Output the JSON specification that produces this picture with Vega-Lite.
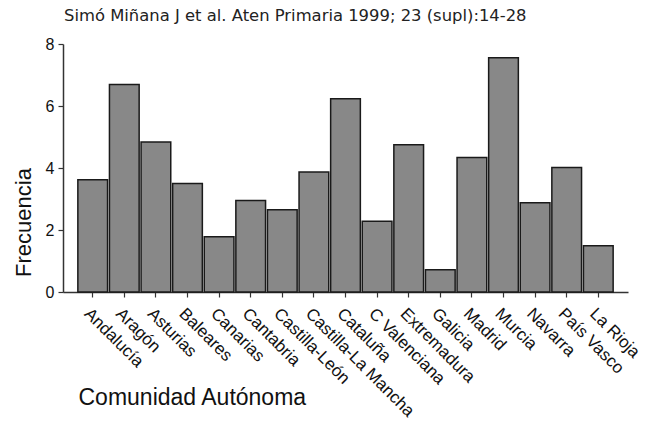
{
  "$schema": "https://vega.github.io/schema/vega-lite/v6.json",
  "width": 565,
  "height": 248,
  "autosize": {"type": "none"},
  "padding": {"left": 63, "top": 44, "right": 18, "bottom": 129},
  "background": "white",
  "title": {
    "text": "Simó Miñana J et al. Aten Primaria 1999; 23 (supl):14-28",
    "anchor": "start",
    "frame": "group",
    "dx": 1,
    "offset": -1,
    "baseline": "alphabetic",
    "font": "DejaVu Sans",
    "fontSize": 16.4,
    "fontWeight": "normal",
    "color": "#222222"
  },
  "data": {
    "values": [
      {"comunidad": "Andalucía", "frecuencia": 3.62},
      {"comunidad": "Aragón", "frecuencia": 6.69},
      {"comunidad": "Asturias", "frecuencia": 4.84},
      {"comunidad": "Baleares", "frecuencia": 3.50},
      {"comunidad": "Canarias", "frecuencia": 1.78},
      {"comunidad": "Cantabria", "frecuencia": 2.95},
      {"comunidad": "Castilla-León", "frecuencia": 2.65},
      {"comunidad": "Castilla-La Mancha", "frecuencia": 3.87},
      {"comunidad": "Cataluña", "frecuencia": 6.23},
      {"comunidad": "C Valenciana", "frecuencia": 2.28},
      {"comunidad": "Extremadura", "frecuencia": 4.75},
      {"comunidad": "Galicia", "frecuencia": 0.72},
      {"comunidad": "Madrid", "frecuencia": 4.34},
      {"comunidad": "Murcia", "frecuencia": 7.56},
      {"comunidad": "Navarra", "frecuencia": 2.88},
      {"comunidad": "País Vasco", "frecuencia": 4.02},
      {"comunidad": "La Rioja", "frecuencia": 1.49}
    ]
  },
  "mark": {"type": "bar", "fill": "#888888", "stroke": "#1a1a1a", "strokeWidth": 1.5},
  "encoding": {
    "x": {
      "field": "comunidad",
      "type": "nominal",
      "sort": null,
      "scale": {"paddingInner": 0.06, "paddingOuter": 0.47},
      "axis": {
        "title": "Comunidad Autónoma",
        "titleFont": "Liberation Sans",
        "titleFontSize": 23,
        "titleFontWeight": "normal",
        "titleColor": "#111111",
        "titleAnchor": "start",
        "titleAlign": "left",
        "titleBaseline": "alphabetic",
        "titleX": 15,
        "titleY": 112,
        "labelAngle": 45,
        "labelAlign": "left",
        "labelBaseline": "top",
        "labelPadding": 8,
        "labelFont": "Liberation Sans",
        "labelFontSize": 17,
        "labelColor": "#111111",
        "labelOverlap": false,
        "tickColor": "#333333",
        "tickSize": 5,
        "tickWidth": 1.2,
        "domainColor": "#333333",
        "domainWidth": 1.5,
        "grid": false
      }
    },
    "y": {
      "field": "frecuencia",
      "type": "quantitative",
      "scale": {"domain": [0, 8], "nice": false},
      "axis": {
        "title": "Frecuencia",
        "titleFont": "Liberation Sans",
        "titleFontSize": 22,
        "titleFontWeight": "normal",
        "titleColor": "#111111",
        "titleAngle": -90,
        "titleAlign": "center",
        "titleBaseline": "alphabetic",
        "titleX": -33,
        "titleY": 178,
        "values": [0, 2, 4, 6, 8],
        "labelFont": "Liberation Sans",
        "labelFontSize": 16,
        "labelColor": "#111111",
        "labelPadding": 4,
        "tickColor": "#333333",
        "tickSize": 5,
        "tickWidth": 1.2,
        "domainColor": "#333333",
        "domainWidth": 1.5,
        "grid": false
      }
    }
  },
  "config": {"view": {"stroke": null}}
}
